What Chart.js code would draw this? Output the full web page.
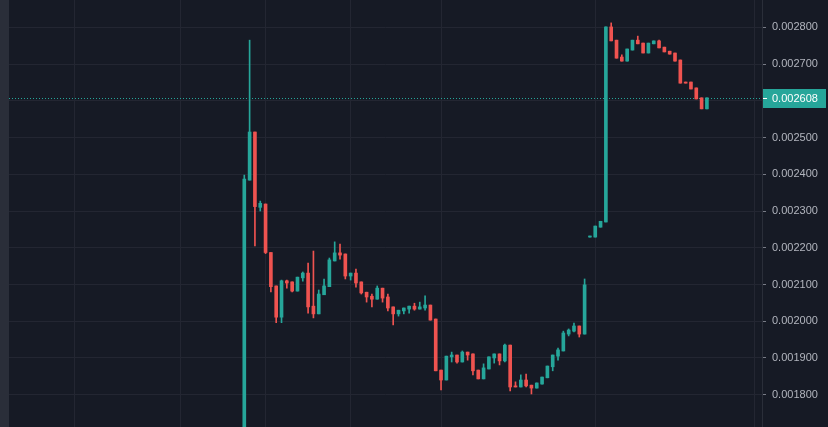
<!DOCTYPE html>
<html>
<head>
<meta charset="utf-8">
<script src="https://cdn.jsdelivr.net/npm/chart.js@4/dist/chart.umd.min.js"></script>
<style>
  html, body { margin: 0; padding: 0; background: #161a25; overflow: hidden; }
</style>
</head>
<body>
<canvas id="chart" width="828" height="427"></canvas>
<script>
// candle data, one entry per bar (oldest first)
const opens = [
  0.00160, 0.002384, 0.002515, 0.00231, 0.002319, 0.002187, 0.002096, 0.002011, 0.00211, 0.002107,
  0.002082, 0.002118, 0.002131, 0.002041, 0.00202, 0.002072, 0.002094, 0.002164, 0.002186, 0.002183,
  0.002123, 0.002131, 0.002107, 0.002079, 0.002068, 0.00206, 0.00209, 0.002066, 0.002039, 0.00202,
  0.002028, 0.002033, 0.002041, 0.002033, 0.002036, 0.002044, 0.002006, 0.001867, 0.00184, 0.001903,
  0.001908, 0.001889, 0.001916, 0.001911, 0.001867, 0.001843, 0.00187, 0.0019, 0.001911, 0.001892,
  0.001935, 0.001824, 0.001821, 0.00184, 0.001826, 0.001818, 0.001829, 0.001846, 0.001876, 0.001905,
  0.001919, 0.001965, 0.001973, 0.001987, 0.001965, 0.002229, 0.002229, 0.002256, 0.00227, 0.002801,
  0.002765, 0.002719, 0.002708, 0.002738, 0.002765, 0.002757, 0.00273, 0.002755, 0.002763, 0.002746,
  0.002735, 0.00273, 0.002711, 0.002651, 0.002651, 0.002635, 0.002608, 0.002578
];
const highs = [
  0.002398, 0.002765, 0.002515, 0.002327, 0.002319, 0.002187, 0.002096, 0.002112, 0.002112, 0.002107,
  0.00212, 0.002134, 0.002158, 0.002191, 0.002085, 0.002115, 0.002172, 0.002216, 0.00221, 0.002183,
  0.002131, 0.002142, 0.002107, 0.002079, 0.002074, 0.002096, 0.00209, 0.002074, 0.002039, 0.00203,
  0.002036, 0.002041, 0.002049, 0.002052, 0.002069, 0.002044, 0.002006, 0.001867, 0.001905, 0.001916,
  0.001908, 0.001919, 0.001916, 0.001911, 0.001867, 0.001884, 0.001903, 0.001911, 0.001911, 0.001938,
  0.001935, 0.001835, 0.001854, 0.001856, 0.001826, 0.001832, 0.001848, 0.001878, 0.001908, 0.001927,
  0.001973, 0.001979, 0.001995, 0.001987, 0.002115, 0.002232, 0.002259, 0.002272, 0.002801, 0.002812,
  0.002765, 0.002725, 0.002741, 0.002765, 0.002776, 0.002757, 0.002757, 0.002763, 0.002765, 0.002746,
  0.002735, 0.00273, 0.002711, 0.002651, 0.002651, 0.002635, 0.002608, 0.002608
];
const lows = [
  0.00160, 0.002384, 0.002205, 0.0023, 0.002184, 0.00208, 0.001996, 0.001996, 0.00209, 0.00208,
  0.002082, 0.002109, 0.002022, 0.002009, 0.00202, 0.002072, 0.002094, 0.002164, 0.002169, 0.002115,
  0.002112, 0.002093, 0.002074, 0.002052, 0.002039, 0.00206, 0.002052, 0.002028, 0.00199, 0.002014,
  0.00202, 0.002022, 0.00203, 0.002033, 0.00203, 0.002003, 0.001865, 0.001813, 0.00184, 0.001889,
  0.001886, 0.001889, 0.001894, 0.001854, 0.001843, 0.001843, 0.00187, 0.001886, 0.001881, 0.001889,
  0.00181, 0.001821, 0.001821, 0.001821, 0.001802, 0.001818, 0.001829, 0.001846, 0.001865, 0.001894,
  0.001919, 0.00196, 0.001971, 0.001957, 0.001965, 0.002229, 0.002229, 0.002256, 0.00227, 0.002763,
  0.002716, 0.002708, 0.002708, 0.002738, 0.002755, 0.00273, 0.00273, 0.002755, 0.002744, 0.002733,
  0.002727, 0.002708, 0.002648, 0.002648, 0.002632, 0.002605, 0.002578, 0.002578
];
const closes = [
  0.002387, 0.002515, 0.002312, 0.002321, 0.002187, 0.002094, 0.002011, 0.00211, 0.002104, 0.002082,
  0.00212, 0.002131, 0.002039, 0.00202, 0.002074, 0.002096, 0.002167, 0.002186, 0.00218, 0.002123,
  0.002131, 0.002104, 0.002077, 0.002066, 0.00206, 0.00209, 0.002063, 0.002036, 0.00202, 0.00203,
  0.002036, 0.002041, 0.002033, 0.002039, 0.002044, 0.002003, 0.001865, 0.00184, 0.001905, 0.001908,
  0.001889, 0.001916, 0.001908, 0.001865, 0.001843, 0.001873, 0.001903, 0.001911, 0.001892, 0.001935,
  0.001821, 0.001821, 0.00184, 0.001824, 0.001818, 0.001832, 0.001848, 0.001878, 0.001908, 0.001922,
  0.001968, 0.001976, 0.001987, 0.001965, 0.002099, 0.002232, 0.002259, 0.002272, 0.002801, 0.002763,
  0.002716, 0.002708, 0.002741, 0.002765, 0.002755, 0.00273, 0.002757, 0.002763, 0.002744, 0.002733,
  0.002727, 0.002708, 0.002648, 0.002648, 0.002632, 0.002605, 0.002578, 0.002608
];

// price axis ticks and time grid positions (in bar index units)
const yTicks = [0.0018, 0.0019, 0.0020, 0.0021, 0.0022, 0.0023, 0.0024, 0.0025, 0.0026, 0.0027, 0.0028];
const xGridAt = [-32, -12, 4, 20, 37, 66, 96];

// visible range
const xMin = -44.25, xMax = 97.36;
const yMin = 0.0017121, yMax = 0.0028743;

const UP = "#26a69a";
const DOWN = "#ef5350";
const candleColors = closes.map((c, i) => (c >= opens[i] ? UP : DOWN));
const lastPrice = closes[closes.length - 1];

const tvPlugin = {
  id: "tv",
  beforeDraw(chart) {
    const c = chart.ctx;
    c.save();
    c.fillStyle = "#161a25";
    c.fillRect(0, 0, chart.width, chart.height);
    c.fillStyle = "#2a2e39";
    c.fillRect(0, 0, 9, chart.height);
    c.restore();
  },
  beforeDatasetsDraw(chart) {
    const c = chart.ctx;
    const a = chart.chartArea;
    const y = Math.round(chart.scales.y.getPixelForValue(lastPrice)) + 0.5;
    c.save();
    c.strokeStyle = UP;
    c.lineWidth = 1;
    c.setLineDash([1, 2]);
    c.beginPath();
    c.moveTo(a.left, y);
    c.lineTo(a.right, y);
    c.stroke();
    c.restore();
  },
  afterDraw(chart) {
    const c = chart.ctx;
    const a = chart.chartArea;
    const y = Math.round(chart.scales.y.getPixelForValue(lastPrice));
    c.save();
    c.fillStyle = UP;
    c.fillRect(a.right + 1, y - 9, 63, 19);
    c.fillStyle = "#ffffff";
    c.fillRect(a.right + 1, y, 4, 1);
    c.font = "11px 'Liberation Sans', Arial, sans-serif";
    c.textBaseline = "middle";
    c.textAlign = "left";
    c.fillText(lastPrice.toFixed(6), a.right + 10, y + 0.5);
    c.restore();
  }
};

new Chart(document.getElementById("chart"), {
  type: "bar",
  data: {
    datasets: [
      {
        label: "body",
        data: opens.map((o, i) => ({ x: i, y: [o, closes[i]] })),
        backgroundColor: candleColors,
        borderWidth: 0,
        barThickness: 3,
        minBarLength: 1,
        grouped: false
      },
      {
        label: "wick",
        data: lows.map((l, i) => ({ x: i, y: [l, highs[i]] })),
        backgroundColor: candleColors,
        borderWidth: 0,
        barThickness: 1,
        grouped: false
      }
    ]
  },
  options: {
    responsive: false,
    devicePixelRatio: 1,
    animation: false,
    layout: { autoPadding: false, padding: { left: 9, right: 0, top: 0, bottom: 0 } },
    plugins: { legend: { display: false }, tooltip: { enabled: false } },
    scales: {
      x: {
        type: "linear",
        min: xMin,
        max: xMax,
        offset: false,
        ticks: { display: false },
        grid: { color: "#232632", drawTicks: false, offset: false },
        border: { display: false },
        afterBuildTicks: s => { s.ticks = xGridAt.map(v => ({ value: v })); }
      },
      y: {
        position: "right",
        min: yMin,
        max: yMax,
        afterBuildTicks: s => { s.ticks = yTicks.map(v => ({ value: v })); },
        afterFit: s => {
          s.width = 66;
          s.paddingTop = 0;
          s.paddingBottom = 0;
        },
        ticks: {
          color: "#b2b5be",
          font: { family: "'Liberation Sans', Arial, sans-serif", size: 11 },
          padding: 6,
          callback: v => v.toFixed(6)
        },
        grid: { color: "#232632", tickColor: "#787b86", tickLength: 4 },
        border: { color: "#2a2e39" }
      }
    }
  },
  plugins: [tvPlugin]
});
</script>
</body>
</html>
